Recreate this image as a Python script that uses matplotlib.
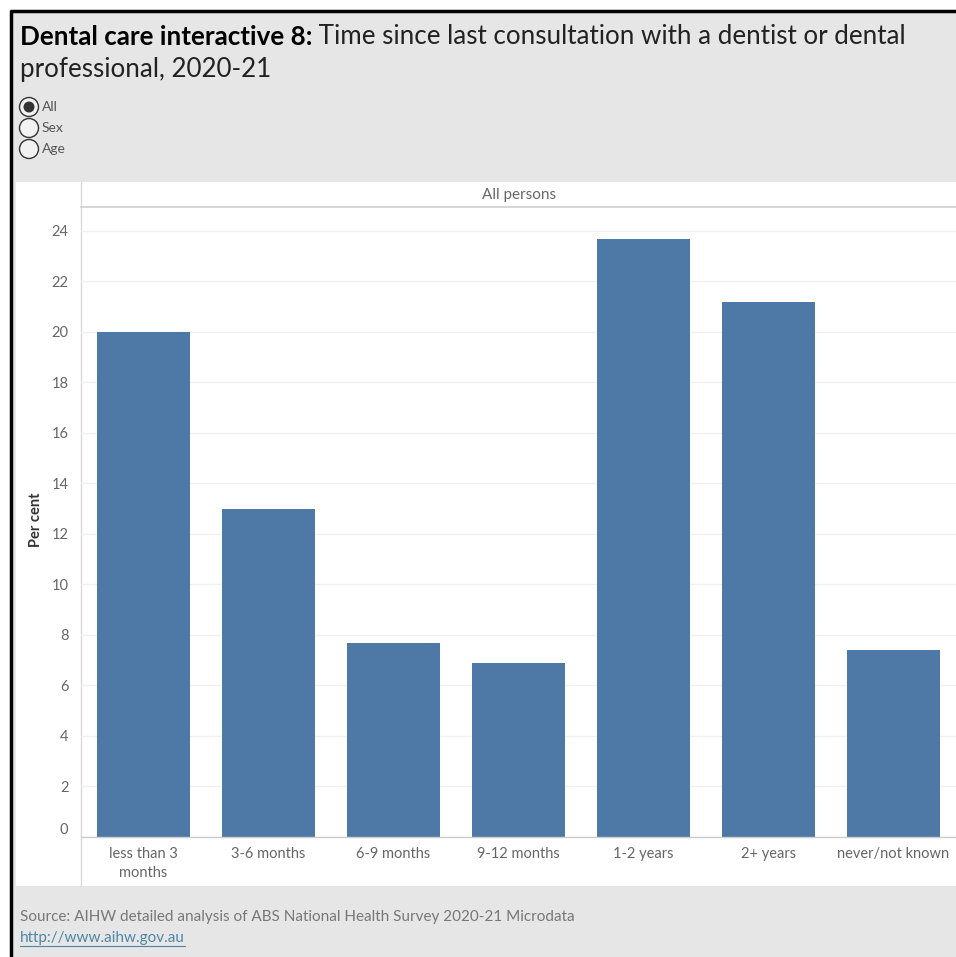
import matplotlib.pyplot as plt
import matplotlib.transforms as mtransforms
from matplotlib.patches import Rectangle, Circle

categories = ['less than 3\nmonths', '3-6 months', '6-9 months', '9-12 months',
              '1-2 years', '2+ years', 'never/not known']
per_cent = [20.0, 13.0, 7.7, 6.9, 23.7, 21.2, 7.4]
y_ticks = [0, 2, 4, 6, 8, 10, 12, 14, 16, 18, 20, 22, 24]
radio_options = ['All', 'Sex', 'Age']

title_bold = 'Dental care interactive 8:'
title_rest = ' Time since last consultation with a dentist or dental'
title_line2 = 'professional, 2020-21'
source_text = 'Source: AIHW detailed analysis of ABS National Health Survey 2020-21 Microdata'
url_text = 'http://www.aihw.gov.au'

W, H = 956, 957
BAR = '#4e79a7'
GREY_BG = '#e6e6e6'
URL = '#4f86a6'

plt.rcParams['font.family'] = ['Lato', 'DejaVu Sans']

fig = plt.figure(figsize=(W / 100, H / 100), dpi=100)
fig.patch.set_facecolor('white')

# background layer in pixel coordinates (y down)
bg = fig.add_axes([0, 0, 1, 1], zorder=0)
bg.set_xlim(0, W)
bg.set_ylim(H, 0)
bg.axis('off')

bg.add_patch(Rectangle((11, 11), W, H, facecolor=GREY_BG, edgecolor='none'))
bg.plot([11, 11], [10, H], color='black', lw=2.5, solid_capstyle='butt')
bg.plot([10, W], [11, 11], color='black', lw=2.5, solid_capstyle='butt')
bg.add_patch(Rectangle((16, 182), W - 16, 704, facecolor='white', edgecolor='none'))
bg.plot([81, 81], [182, 886], color='#d9d9d9', lw=1)
bg.plot([81, W], [207, 207], color='#cfcfcf', lw=1.2)
bg.text(519, 195, 'All persons', ha='center', va='center', fontsize=11, color='#666666')

# title, bold part then regular part
t = bg.text(20, 37, title_bold, ha='left', va='center', fontsize=18.7, fontweight='bold', color='black')
fig.canvas.draw()
inv = bg.transData.inverted()
x_after = inv.transform((t.get_window_extent().x1, 0))[0]
bg.text(x_after, 37, title_rest, ha='left', va='center', fontsize=18.7, color='#222222')
bg.text(20, 70, title_line2, ha='left', va='center', fontsize=18.7, color='#222222')

# radio buttons
for i, opt in enumerate(radio_options):
    cy = 107 + 21 * i
    bg.add_patch(Circle((29, cy), 9.5, facecolor='#f2f2f2', edgecolor='#333333', lw=1))
    if i == 0:
        bg.add_patch(Circle((29, cy), 5.5, facecolor='#333333', edgecolor='none'))
    bg.text(42, cy, opt, ha='left', va='center', fontsize=10, color='#555555')

# source and link
bg.text(20, 917, source_text, ha='left', va='center', fontsize=11, color='#777777')
u = bg.text(20, 938, url_text, ha='left', va='center', fontsize=11, color=URL)
fig.canvas.draw()
ub = u.get_window_extent()
bg.plot([inv.transform((ub.x0, 0))[0], inv.transform((ub.x1, 0))[0]], [946, 946], color=URL, lw=0.8)

bg.text(36, 520, 'Per cent', rotation=90, ha='center', va='center', fontsize=10.5,
        fontweight='bold', color='#333333')

# chart
ax = fig.add_axes([81 / W, (H - 837) / H, (W - 81) / W, (837 - 207) / H], zorder=1)
ax.set_facecolor('none')
x = range(len(categories))
ax.bar(x, per_cent, width=0.75, color=BAR, zorder=2)
ax.set_xlim(-0.5, len(categories) - 0.5)
ax.set_ylim(0, 24.95)
ax.set_yticks(y_ticks)
ax.set_yticklabels([str(v) for v in y_ticks], fontsize=10.5, color='#666666')
ax.set_xticks(list(x))
ax.set_xticklabels(categories, fontsize=10.5, color='#666666', linespacing=1.45, va='top')
ax.tick_params(axis='both', length=0)
ax.tick_params(axis='y', pad=9)
ax.tick_params(axis='x', pad=7)
ax.grid(axis='y', color='#f0f0f0', lw=1, zorder=0)
for s in ['top', 'right', 'left']:
    ax.spines[s].set_visible(False)
ax.spines['bottom'].set_color('#cccccc')
ax.spines['bottom'].set_linewidth(1)

# the zero label sits a little above the axis line
zero_label = ax.get_yticklabels()[0]
zero_label.set_transform(zero_label.get_transform() +
                         mtransforms.ScaledTranslation(0, 9 / 100, fig.dpi_scale_trans))

fig.savefig('out.png', dpi=100)
